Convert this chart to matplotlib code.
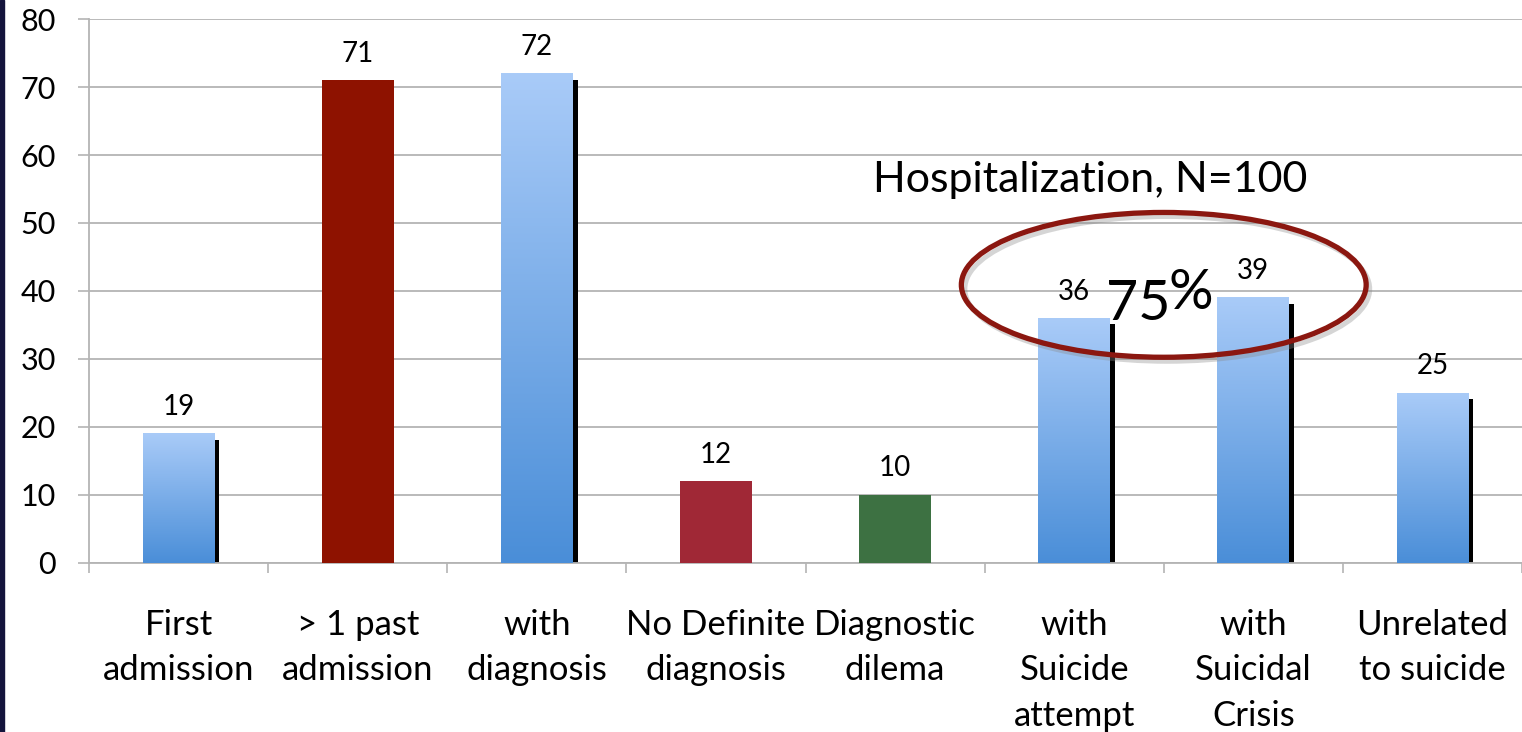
import numpy as np
import matplotlib.pyplot as plt
from matplotlib.colors import LinearSegmentedColormap
from matplotlib.patches import Ellipse, Rectangle

plt.rcParams['font.family'] = ['Lato', 'DejaVu Sans']

categories = ["First\nadmission", "> 1 past\nadmission", "with\ndiagnosis",
              "No Definite\ndiagnosis", "Diagnostic\ndilema", "with\nSuicide\nattempt",
              "with\nSuicidal\nCrisis", "Unrelated\nto suicide"]
values = [19, 71, 72, 12, 10, 36, 39, 25]
# solid colour for the flat bars, None means blue gradient bar
solid = [None, "#8e1200", None, "#a02836", "#3d7142", None, None, None]

fig = plt.figure(figsize=(15.22, 7.32), dpi=100)
fig.patches.append(Rectangle((0, 0), 0.0025, 1, transform=fig.transFigure,
                             color="#14143c", zorder=10))
ax = fig.add_axes([0.0585, 0.231, 0.9415, 0.743])

blue = LinearSegmentedColormap.from_list("bl", ["#4a8ed8", "#a9cbf8"])
grad = np.linspace(0, 1, 256).reshape(-1, 1)
w = 0.4
for i, (v, c) in enumerate(zip(values, solid)):
    if c is None:
        # thin dark shadow down the right side
        ax.bar(i + w / 2 + 0.014, v - 0.9, width=0.028, color="black", zorder=2)
        ax.imshow(grad, cmap=blue, origin="lower", aspect="auto",
                  extent=[i - w / 2, i + w / 2, 0, v], zorder=3)
    else:
        ax.bar(i, v, width=w, color=c, zorder=3)
    ax.text(i, v + 2.0, str(v), ha="center", va="bottom", fontsize=20, zorder=5)

ax.set_xlim(-0.5, 7.5)
ax.set_ylim(0, 80)
ax.set_yticks(range(0, 81, 10))
ax.set_xticks(range(len(categories)))
ax.set_xticklabels(categories, fontsize=25, linespacing=1.52)
ax.set_xticks(np.arange(-0.5, 8, 1), minor=True)
ax.tick_params(axis="x", which="major", length=0, pad=33)
ax.tick_params(axis="x", which="minor", length=7, color="#b4b4b4", width=1.2)
ax.tick_params(axis="y", length=8, color="#b4b4b4", width=1.2, labelsize=22, pad=16)
ax.grid(axis="y", color="#b4b4b4", linewidth=1.3, zorder=0)
ax.set_axisbelow(True)
for s in ["top", "right"]:
    ax.spines[s].set_visible(False)
for s in ["left", "bottom"]:
    ax.spines[s].set_color("#b4b4b4")
    ax.spines[s].set_linewidth(1.3)

ax.text(5.09, 56.3, "Hospitalization, N=100", ha="center", va="center", fontsize=31)
ax.text(5.36, 38.0, "75", ha="center", va="center", fontsize=40, zorder=6)
ax.text(5.65, 39.6, "%", ha="center", va="center", fontsize=40, zorder=6)

ax.add_patch(Ellipse((5.52, 40.3), 2.26, 21.3, fill=False, edgecolor="#888888",
                     linewidth=3.5, alpha=0.35, zorder=6))
ax.add_patch(Ellipse((5.5, 40.9), 2.26, 21.3, fill=False, edgecolor="#8b1710",
                     linewidth=3.8, zorder=7))

fig.savefig("out.png", dpi=100, facecolor="white")
